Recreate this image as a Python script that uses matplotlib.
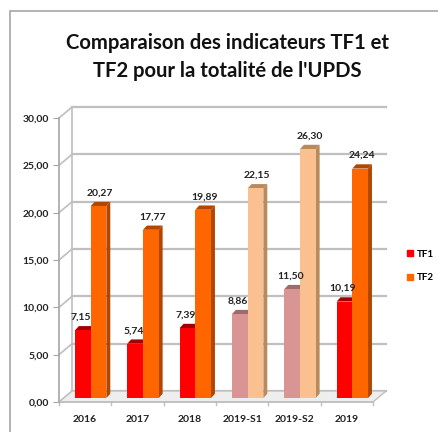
import numpy as np
import matplotlib
matplotlib.use("Agg")
import matplotlib.pyplot as plt
from matplotlib.patches import Rectangle, Polygon

# Data
categories = ["2016", "2017", "2018", "2019-S1", "2019-S2", "2019"]
tf1 = [7.15, 5.74, 7.39, 8.86, 11.50, 10.19]
tf2 = [20.27, 17.77, 19.89, 22.15, 26.30, 24.24]
tf1_labels = ["7,15", "5,74", "7,39", "8,86", "11,50", "10,19"]
tf2_labels = ["20,27", "17,77", "19,89", "22,15", "26,30", "24,24"]
yticks = [0, 5, 10, 15, 20, 25, 30]
title = "Comparaison des indicateurs TF1 et\nTF2 pour la totalité de l'UPDS"

# colours (semester bars are lighter)
c_tf1 = ["#ff0000", "#ff0000", "#ff0000", "#d99594", "#d99594", "#ff0000"]
c_tf2 = ["#ff6600", "#ff6600", "#ff6600", "#fac090", "#fac090", "#ff6600"]
s_tf1 = ["#a30000", "#a30000", "#a30000", "#a06a6a", "#a06a6a", "#a30000"]
s_tf2 = ["#b04600", "#b04600", "#b04600", "#b98a5c", "#b98a5c", "#b04600"]

plt.rcParams["font.family"] = ["Lato", "DejaVu Sans"]

fig = plt.figure(figsize=(4.39, 4.32), dpi=100)
W, H = 439, 432
ax = fig.add_axes([59 / W, (H - 402) / H, (373 - 59) / W, (402 - 118) / H])
ax.set_xlim(-0.5, 5.5)
ax.set_ylim(0, 30)

# frame around the chart
fig.add_artist(Rectangle((10 / W, -0.1), 1.2, (H - 11) / H + 0.1,
                         transform=fig.transFigure, fill=False,
                         edgecolor="#a6a6a6", lw=1.2))

# 3d-ish depth offsets (data units)
DX, DY = 0.25, 1.16
x0, x1 = -0.5, 5.5
grid_c = "#bfbfbf"

# back wall gridlines + connectors
for y in yticks:
    ax.plot([x0 + DX, x1 + DX], [y + DY, y + DY], color=grid_c, lw=1.6,
            clip_on=False, zorder=1)
    ax.plot([x0, x0 + DX], [y, y + DY], color=grid_c, lw=1.2,
            clip_on=False, zorder=1)
ax.plot([x0 + DX, x0 + DX], [DY, 30 + DY], color=grid_c, lw=1.2,
        clip_on=False, zorder=1)

# floor
floor = Polygon([[x0, 0], [x1, 0], [x1 + DX, DY], [x0 + DX, DY]],
                closed=True, facecolor="#eeeeee", edgecolor="#bfbfbf",
                lw=1.0, clip_on=False, zorder=1)
ax.add_patch(floor)

# bars
x = np.arange(len(categories))
bw = 0.30
bx, by = 0.105, 0.42
ddx, ddy = 0.075, 0.45


def depth(left, val, side_c, z):
    # side and top faces of one bar
    r = left + bw
    top = by + val
    ax.add_patch(Polygon([[r, by], [r + ddx, by + ddy], [r + ddx, top + ddy],
                          [r, top]], closed=True, facecolor=side_c,
                         edgecolor="none", zorder=z))
    ax.add_patch(Polygon([[left, top], [left + ddx, top + ddy],
                          [r + ddx, top + ddy], [r, top]], closed=True,
                         facecolor=side_c, edgecolor="none", zorder=z))


for i in range(len(categories)):
    depth(x[i] - bw + bx, tf1[i], s_tf1[i], 2)
    depth(x[i] + bx, tf2[i], s_tf2[i], 4)

ax.bar(x - bw / 2 + bx, tf1, bw, bottom=by, color=c_tf1, zorder=3)
ax.bar(x + bw / 2 + bx, tf2, bw, bottom=by, color=c_tf2, zorder=5)

for i in range(len(categories)):
    ax.text(x[i] - bw / 2 + bx - 0.03, tf1[i] + by + 0.9, tf1_labels[i],
            ha="center", va="bottom", fontsize=7.5, fontweight="bold",
            color="#222222", zorder=6)
    ax.text(x[i] + bw / 2 + bx + 0.03, tf2[i] + by + 0.9, tf2_labels[i],
            ha="center", va="bottom", fontsize=7.5, fontweight="bold",
            color="#222222", zorder=6)

# axes styling
for s in ["top", "right", "bottom"]:
    ax.spines[s].set_visible(False)
ax.spines["left"].set_color("#a6a6a6")
ax.spines["left"].set_linewidth(1.2)
ax.set_yticks(yticks)
ax.set_yticklabels(["%d,00" % v for v in yticks], fontsize=7.5,
                   fontweight="bold", color="#222222")
ax.set_xticks(x)
ax.set_xticklabels(categories, fontsize=7.5, fontweight="bold", color="#222222")
ax.tick_params(axis="y", length=4, color="#a6a6a6", pad=3)
ax.tick_params(axis="x", length=0, pad=9)
ax.plot([x0, x1], [0, 0], color="#bfbfbf", lw=1.2, clip_on=False, zorder=2)
for xt in np.arange(-0.5, 6, 1.0):
    ax.plot([xt, xt], [0, -0.35], color="#bfbfbf", lw=1.0, clip_on=False)
ax.set_facecolor("none")

# title
fig.text(227 / W, 1 - 57 / H, title, ha="center", va="center",
         fontsize=14.6, fontweight="bold", color="#111111", linespacing=1.45)

# legend
handles = [Rectangle((0, 0), 1, 1, color="#ff0000"),
           Rectangle((0, 0), 1, 1, color="#ff6600")]
fig.legend(handles, ["TF1", "TF2"], loc="center left",
           bbox_to_anchor=(402 / W, 1 - 266 / H), frameon=False,
           prop={"size": 7, "weight": "bold"}, handlelength=0.6,
           handleheight=0.6, handletextpad=0.4, labelspacing=1.5,
           borderpad=0)

fig.savefig("out.png", dpi=100)
